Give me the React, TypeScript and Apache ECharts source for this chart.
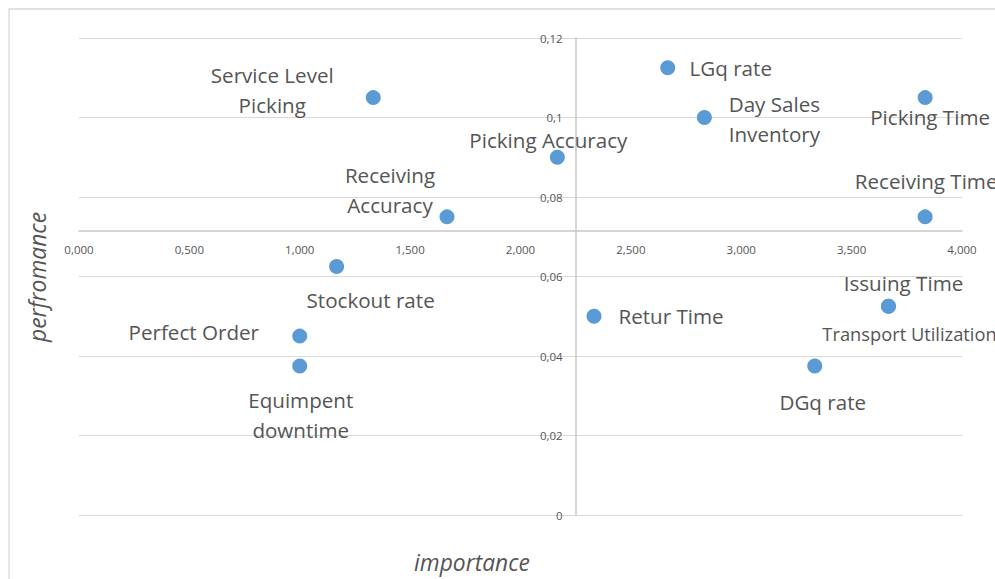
import React, { useEffect, useRef } from "react";
import * as echarts from "echarts";

const names = [
  "Service Level\nPicking",
  "Receiving\nAccuracy",
  "Stockout rate",
  "Perfect Order",
  "Equimpent\ndowntime",
  "Picking Accuracy",
  "LGq rate",
  "Day Sales\nInventory",
  "Picking Time",
  "Receiving Time",
  "Retur Time",
  "Issuing Time",
  "Transport Utilization",
  "DGq rate",
];
const importance = [1.333, 1.667, 1.167, 1.0, 1.0, 2.167, 2.667, 2.833, 3.833, 3.833, 2.333, 3.667, 3.667, 3.333];
const performance = [0.105, 0.075, 0.0625, 0.045, 0.0375, 0.09, 0.1125, 0.1, 0.105, 0.075, 0.05, 0.0525, 0.0525, 0.0375];

const xMin = 0;
const xMax = 4;
const xInterval = 0.5;
const yMin = 0;
const yMax = 0.12;
const yInterval = 0.02;
const xCross = 2.25;

// label placement (text centre relative to point centre, px)
const labelOffsets: [number, number][] = [
  [-101, -8],
  [-57, -27],
  [34, 33],
  [-106, -4],
  [1, 49],
  [-9, -17],
  [63, 0],
  [70, 1],
  [5, 19],
  [1, -36],
  [77, 0],
  [15, -23],
  [21, 27],
  [8, 36],
];
const labelSizes = [20.6, 20.6, 20.6, 20.6, 20.6, 20.6, 20.6, 20.6, 20.6, 20.6, 20.6, 20.6, 18.3, 20.6];

const W = 995;
const H = 579;
const gridLeft = 79;
const gridRight = 33;
const gridTop = 38;
const gridBottom = 64;

export default function App() {
  const ref = useRef<HTMLDivElement>(null);
  useEffect(() => {
    document.body.style.margin = "0";
    if (!ref.current) return;
    const chart = echarts.init(ref.current, null, { renderer: "svg" });
    const gridW = W - gridLeft - gridRight;
    const gridH = H - gridTop - gridBottom;
    const yCross = performance.reduce((a, b) => a + b, 0) / performance.length;
    const xOffset = -((yCross - yMin) / (yMax - yMin)) * gridH;
    const yOffset = -((xCross - xMin) / (xMax - xMin)) * gridW;
    const font = "'Open Sans', sans-serif";
    const textColor = "#555555";

    const data = names.map((n, i) => ({
      name: n,
      value: [importance[i], performance[i]],
      label: {
        show: true,
        formatter: n,
        position: "inside",
        offset: labelOffsets[i],
        align: "center",
        verticalAlign: "middle",
        fontSize: labelSizes[i],
        lineHeight: 30,
        color: textColor,
        fontFamily: font,
      },
    }));

    chart.setOption({
      animation: false,
      backgroundColor: "#ffffff",
      grid: { left: gridLeft, right: gridRight, top: gridTop, bottom: gridBottom, containLabel: false },
      xAxis: {
        type: "value",
        min: xMin,
        max: xMax,
        interval: xInterval,
        position: "bottom",
        offset: xOffset,
        axisLine: { show: true, onZero: false, lineStyle: { color: "#c8c8c8", width: 1.5 } },
        axisTick: { show: false },
        splitLine: { show: false },
        axisLabel: {
          margin: 12,
          fontSize: 11.5,
          color: textColor,
          fontFamily: font,
          formatter: (v: number) => v.toFixed(3).replace(".", ","),
        },
      },
      yAxis: {
        type: "value",
        min: yMin,
        max: yMax,
        interval: yInterval,
        position: "left",
        offset: yOffset,
        axisLine: { show: true, onZero: false, lineStyle: { color: "#c8c8c8", width: 1.5 } },
        axisTick: { show: false },
        splitLine: { show: true, lineStyle: { color: "#d9d9d9", width: 1.2 } },
        axisLabel: {
          margin: 13,
          fontSize: 11.5,
          color: textColor,
          fontFamily: font,
          formatter: (v: number) => String(Number(v.toFixed(2))).replace(".", ","),
        },
      },
      graphic: [
        {
          type: "rect",
          shape: { x: 9, y: 9, width: 1000, height: 600 },
          style: { fill: "none", stroke: "#d9d9d9", lineWidth: 1.3 },
          silent: true,
        },
        {
          type: "text",
          x: 37,
          y: 277,
          rotation: Math.PI / 2,
          style: {
            text: "perfromance",
            fill: textColor,
            font: `italic 22.8px ${font}`,
            align: "center",
            verticalAlign: "middle",
          },
        },
        {
          type: "text",
          x: 472,
          y: 562,
          style: {
            text: "importance",
            fill: textColor,
            font: `italic 22.8px ${font}`,
            align: "center",
            verticalAlign: "middle",
          },
        },
      ],
      series: [
        {
          type: "scatter",
          symbol: "circle",
          symbolSize: 15,
          itemStyle: { color: "#5B9BD5", opacity: 1 },
          data,
          emphasis: { disabled: true },
        },
      ],
    });
    return () => chart.dispose();
  }, []);
  return <div ref={ref} style={{ width: W, height: H }} />;
}
